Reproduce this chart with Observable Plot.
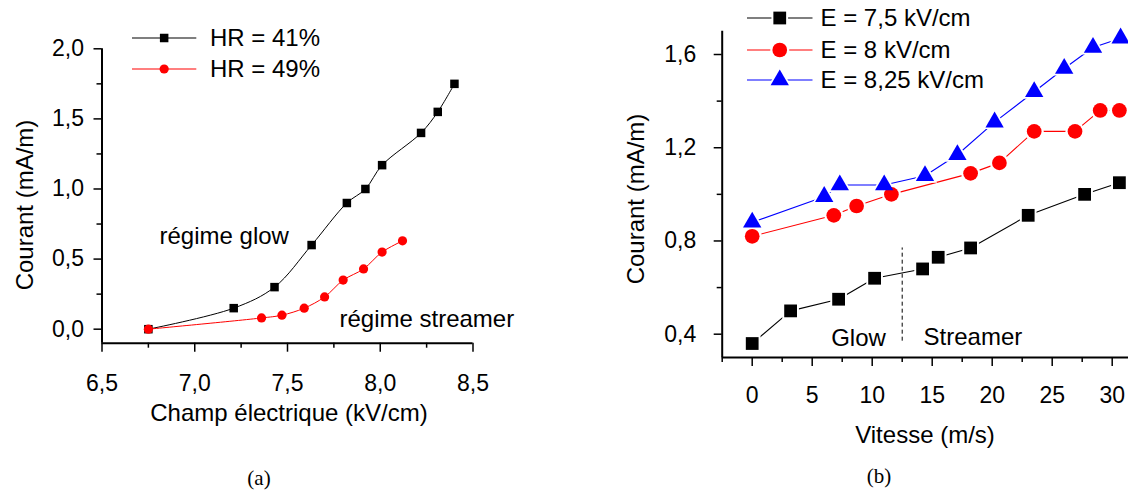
<!DOCTYPE html>
<html>
<head>
<meta charset="utf-8">
<script src="https://cdn.jsdelivr.net/npm/d3@7"></script>
<script src="https://cdn.jsdelivr.net/npm/@observablehq/plot@0.6"></script>
<style>
  html, body { margin: 0; padding: 0; background: #fff; }
  #fig { position: relative; width: 1128px; height: 490px; overflow: hidden;
         font-family: "Liberation Sans", Arial, sans-serif; color: #000; background: #fff; }
  #fig > svg { position: absolute; top: 0; }
  .lbl { position: absolute; white-space: nowrap; line-height: 1; font-size: 24px; }
  .cap { font-family: "Liberation Serif", "Times New Roman", serif; font-size: 21px; }
  .key { position: absolute; overflow: visible; }
</style>
</head>
<body>
<div id="fig"></div>
<script>
// ---------- Panel (a): current vs electric field, two humidity levels ----------
const fieldHR41   = [6.75, 7.21, 7.43, 7.63, 7.82, 7.92, 8.01, 8.22, 8.31, 8.40];
const currentHR41 = [0.00, 0.15, 0.30, 0.60, 0.90, 1.00, 1.17, 1.40, 1.55, 1.75];
const fieldHR49   = [6.75, 7.36, 7.47, 7.59, 7.70, 7.80, 7.91, 8.01, 8.12];
const currentHR49 = [0.00, 0.08, 0.10, 0.15, 0.23, 0.35, 0.43, 0.55, 0.63];
const seriesA = ["HR = 41%", "HR = 49%"];
const fieldTicks = [6.5, 7.0, 7.5, 8.0, 8.5];
const fieldMinorTicks = [6.75, 7.25, 7.75, 8.25];
const currentTicksA = [0.0, 0.5, 1.0, 1.5, 2.0];
const currentMinorTicksA = [0.25, 0.75, 1.25, 1.75];

// ---------- Panel (b): current vs air speed, three field strengths ----------
const speedE75    = [0, 3.2, 7.2, 10.2, 14.2, 15.5, 18.2, 23.0, 27.7, 30.6];
const currentE75  = [0.36, 0.50, 0.55, 0.64, 0.68, 0.73, 0.77, 0.91, 1.00, 1.05];
const speedE8     = [0, 6.8, 8.7, 11.6, 18.2, 20.6, 23.5, 26.9, 29.0, 30.6];
const currentE8   = [0.82, 0.91, 0.95, 1.00, 1.09, 1.135, 1.27, 1.27, 1.36, 1.36];
const speedE825   = [0, 6.0, 7.3, 11.0, 14.4, 17.1, 20.2, 23.5, 26.0, 28.4, 30.7];
const currentE825 = [0.88, 0.99, 1.04, 1.04, 1.08, 1.17, 1.31, 1.44, 1.54, 1.63, 1.67];
const seriesB = ["E = 7,5 kV/cm", "E = 8 kV/cm", "E = 8,25 kV/cm"];
const speedTicks = [0, 5, 10, 15, 20, 25, 30];
const speedMinorTicks = [-2.5, 2.5, 7.5, 12.5, 17.5, 22.5, 27.5, 32.5];
const currentTicksB = [0.4, 0.8, 1.2, 1.6];
const currentMinorTicksB = [0.6, 1.0, 1.4];
const glowStreamerSpeed = 12.5;          // boundary between the two discharge regimes
const boundaryCurrent = [0.37, 0.77];    // vertical extent of the boundary marker

const rows = (xs, ys, name) => xs.map((x, i) => ({x, y: ys[i], name}));
const dataA41 = rows(fieldHR41, currentHR41, seriesA[0]);
const dataA49 = rows(fieldHR49, currentHR49, seriesA[1]);
const dataB75 = rows(speedE75, currentE75, seriesB[0]);
const dataB8  = rows(speedE8, currentE8, seriesB[1]);
const dataB825 = rows(speedE825, currentE825, seriesB[2]);

const comma = d => d.toFixed(1).replace(".", ",");
const svgStyle = {background: "transparent", maxWidth: "none", overflow: "visible",
                  fontFamily: "Liberation Sans, Arial, sans-serif", color: "#000"};
const fig = document.getElementById("fig");

// Panel (a)
const plotA = Plot.plot({
  width: 560, height: 490,
  marginLeft: 101.5, marginRight: 87.5, marginTop: 48.3, marginBottom: 147.3,
  x: {domain: [6.5, 8.5]},
  y: {domain: [-0.1, 2.0]},
  style: svgStyle,
  marks: [
    Plot.axisX(fieldMinorTicks, {tickSize: 5, tickFormat: () => "", label: null, strokeWidth: 1.5}),
    Plot.axisX(fieldTicks, {tickSize: 9, tickPadding: 22, tickFormat: comma, fontSize: 23, label: null, strokeWidth: 1.5}),
    Plot.axisY(currentMinorTicksA, {tickSize: 5, tickFormat: () => "", label: null, strokeWidth: 1.5}),
    Plot.axisY(currentTicksA, {tickSize: 8, tickPadding: 10, tickFormat: comma, fontSize: 23, label: null, strokeWidth: 1.5}),
    Plot.ruleX([6.5], {strokeWidth: 2}),
    Plot.ruleY([-0.1], {strokeWidth: 2}),
    Plot.line(dataA41, {x: "x", y: "y", curve: "catmull-rom", stroke: "#000", strokeWidth: 1}),
    Plot.line(dataA49, {x: "x", y: "y", curve: "catmull-rom", stroke: "#ff0000", strokeWidth: 1}),
    Plot.dot(dataA41, {x: "x", y: "y", symbol: "square", r: 4.8, fill: "#000"}),
    Plot.dot(dataA49, {x: "x", y: "y", symbol: "circle", r: 4.6, fill: "#ff0000"}),
    Plot.text(["régime glow"], {x: 6.81, y: 0.61, text: d => d, textAnchor: "start", lineAnchor: "bottom", fontSize: 24}),
    Plot.text(["régime streamer"], {x: 7.78, y: 0.015, text: d => d, textAnchor: "start", lineAnchor: "bottom", fontSize: 24})
  ]
});
plotA.style.left = "0px";
fig.appendChild(plotA);

// Panel (b)
const halo = 2.2;
const plotB = Plot.plot({
  width: 600, height: 490,
  marginLeft: 161.7, marginRight: 18.3, marginTop: 30.7, marginBottom: 133,
  x: {domain: [-2.5, 32.5]},
  y: {domain: [0.3, 1.7]},
  style: svgStyle,
  marks: [
    Plot.axisX(speedMinorTicks, {tickSize: 5, tickFormat: () => "", label: null, strokeWidth: 1.5}),
    Plot.axisX(speedTicks, {tickSize: 9, tickPadding: 20, tickFormat: d => String(d), fontSize: 23, label: null, strokeWidth: 1.5}),
    Plot.axisY(currentMinorTicksB, {tickSize: 5, tickFormat: () => "", label: null, strokeWidth: 1.5}),
    Plot.axisY(currentTicksB, {tickSize: 8, tickPadding: 18, tickFormat: comma, fontSize: 23, label: null, strokeWidth: 1.5}),
    Plot.ruleX([-2.5], {strokeWidth: 2}),
    Plot.ruleY([0.3], {strokeWidth: 2}),
    Plot.ruleX([glowStreamerSpeed], {y1: boundaryCurrent[0], y2: boundaryCurrent[1], strokeWidth: 1, strokeDasharray: "4,3"}),
    Plot.line(dataB75, {x: "x", y: "y", stroke: "#000", strokeWidth: 1.1}),
    Plot.line(dataB8, {x: "x", y: "y", stroke: "#ff0000", strokeWidth: 1.1}),
    Plot.line(dataB825, {x: "x", y: "y", stroke: "#0000ff", strokeWidth: 1.1}),
    // white rims leave a small gap where each line meets a marker
    Plot.dot(dataB75, {x: "x", y: "y", symbol: "square", r: 7.2 + halo, fill: "#fff"}),
    Plot.dot(dataB8, {x: "x", y: "y", symbol: "circle", r: 7.35 + halo, fill: "#fff"}),
    Plot.dot(dataB825, {x: "x", y: "y", symbol: "triangle", r: 6.8 + halo, fill: "#fff"}),
    Plot.dot(dataB75, {x: "x", y: "y", symbol: "square", r: 7.2, fill: "#000"}),
    Plot.dot(dataB8, {x: "x", y: "y", symbol: "circle", r: 7.35, fill: "#ff0000"}),
    Plot.dot(dataB825, {x: "x", y: "y", symbol: "triangle", r: 6.8, fill: "#0000ff"}),
    Plot.text(["Glow"], {x: 6.58, y: 0.35, text: d => d, textAnchor: "start", lineAnchor: "bottom", fontSize: 24}),
    Plot.text(["Streamer"], {x: 14.28, y: 0.354, text: d => d, textAnchor: "start", lineAnchor: "bottom", fontSize: 24})
  ]
});
plotB.style.left = "560px";
fig.appendChild(plotB);

// ---------- axis titles, panel captions ----------
function label(text, x, y, cls, rotate) {
  const d = document.createElement("div");
  d.className = cls;
  d.textContent = text;
  d.style.left = x + "px";
  d.style.top = y + "px";
  d.style.transform = "translate(-50%,-50%)" + (rotate ? " rotate(-90deg)" : "");
  fig.appendChild(d);
}
label("Courant (mA/m)", 25, 205, "lbl", true);
label("Champ électrique (kV/cm)", 289, 413, "lbl");
label("Courant (mA/m)", 636, 199, "lbl", true);
label("Vitesse (m/s)", 925, 435, "lbl");
label("(a)", 259, 478, "lbl cap");
label("(b)", 879, 476, "lbl cap");

// ---------- legends ----------
function legend(items, {lineX0, lineX1, textX}) {
  items.forEach(it => {
    const w = lineX1 - lineX0, h = 30;
    const svg = d3.select(fig).append("svg").attr("class", "key")
      .attr("width", w).attr("height", h)
      .style("left", lineX0 + "px").style("top", (it.y - h / 2) + "px");
    svg.append("line").attr("x1", 0).attr("x2", w).attr("y1", h / 2).attr("y2", h / 2)
      .attr("stroke", it.color).attr("stroke-width", 1.1);
    const sym = d3.symbol().type(it.symbol).size(Math.PI * it.r * it.r);
    if (it.halo) {
      const big = d3.symbol().type(it.symbol).size(Math.PI * (it.r + it.halo) ** 2);
      svg.append("path").attr("d", big()).attr("fill", "#fff")
        .attr("transform", `translate(${w / 2},${h / 2})`);
    }
    svg.append("path").attr("d", sym()).attr("fill", it.color)
      .attr("transform", `translate(${w / 2},${h / 2})`);
    const t = document.createElement("div");
    t.className = "lbl";
    t.textContent = it.name;
    t.style.left = textX + "px";
    t.style.top = it.y + "px";
    t.style.transform = "translate(0,-50%)";
    fig.appendChild(t);
  });
}
legend([
  {name: seriesA[0], color: "#000", symbol: d3.symbolSquare, r: 4.8, y: 38.3},
  {name: seriesA[1], color: "#ff0000", symbol: d3.symbolCircle, r: 4.6, y: 69.3}
], {lineX0: 131.7, lineX1: 196, textX: 210});
legend([
  {name: seriesB[0], color: "#000", symbol: d3.symbolSquare, r: 7.2, halo, y: 18.3},
  {name: seriesB[1], color: "#ff0000", symbol: d3.symbolCircle, r: 7.35, halo, y: 50},
  {name: seriesB[2], color: "#0000ff", symbol: d3.symbolTriangle, r: 6.8, halo, y: 80}
], {lineX0: 746.5, lineX1: 812, textX: 820.5});
</script>
</body>
</html>
